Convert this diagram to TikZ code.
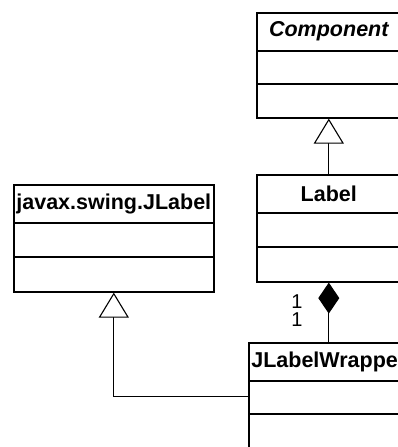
\documentclass[tikz,border=0pt]{standalone}
\usepackage{fontspec}
\setmainfont{Liberation Sans}
\usetikzlibrary{arrows.meta,calc}

\tikzset{
  classbox/.style={draw, line width=1.6pt, anchor=north west, inner sep=0pt},
  divider/.style={line width=1.6pt},
  classname/.style={inner sep=0pt, font=\fontsize{21.5}{25}\selectfont\bfseries},
  mult/.style={inner sep=0pt, align=center, font=\fontsize{20}{18}\selectfont},
  inherit/.style={line width=1.1pt, -{Triangle[length=25pt,width=30pt,fill=white]}},
  compose/.style={line width=1.1pt, {Diamond[length=31pt,width=21pt]}-}
}

\begin{document}
\begin{tikzpicture}[x=1pt,y=-1pt]
\useasboundingbox (0,0) rectangle (398,447);
\clip (0,0) rectangle (398,447);

% Component (abstract)
\node[classbox, minimum width=144pt, minimum height=105pt] (comp) at (256,12) {};
\node[classname, font=\fontsize{21.5}{25}\selectfont\bfseries\itshape] (comp-name) at ($(comp.north)+(0,19.5)$) {Component};
\draw[divider] ($(comp.north west)+(0,39)$) -- ($(comp.north east)+(0,39)$);
\draw[divider] ($(comp.north west)+(0,72)$) -- ($(comp.north east)+(0,72)$);

% Label
\node[classbox, minimum width=144pt, minimum height=107pt] (lab) at (256,174) {};
\node[classname] (lab-name) at ($(lab.north)+(0,19.5)$) {Label};
\draw[divider] ($(lab.north west)+(0,39)$) -- ($(lab.north east)+(0,39)$);
\draw[divider] ($(lab.north west)+(0,73)$) -- ($(lab.north east)+(0,73)$);

% javax.swing.JLabel
\node[classbox, minimum width=200pt, minimum height=107pt] (jl) at (13,184) {};
\node[classname] (jl-name) at ($(jl.north)+(0,19.5)$) {javax.swing.JLabel};
\draw[divider] ($(jl.north west)+(0,39)$) -- ($(jl.north east)+(0,39)$);
\draw[divider] ($(jl.north west)+(0,73)$) -- ($(jl.north east)+(0,73)$);

% JLabelWrapper
\node[classbox, minimum width=160pt, minimum height=107pt] (wrap) at (248,342) {};
\node[classname] (wrap-name) at ($(wrap.north)+(0,19.5)$) {JLabelWrapper};
\draw[divider] ($(wrap.north west)+(0,39)$) -- ($(wrap.north east)+(0,39)$);
\draw[divider] ($(wrap.north west)+(0,72)$) -- ($(wrap.north east)+(0,72)$);

% Relations
\draw[inherit] (lab.north) -- (comp.south);
\draw[compose] (lab.south) -- (wrap.north);
\draw[inherit] (wrap.west) -| (jl.south);

% Multiplicities of the composition
\node[mult] (mult) at (297,311) {1\\1};
\end{tikzpicture}
\end{document}
